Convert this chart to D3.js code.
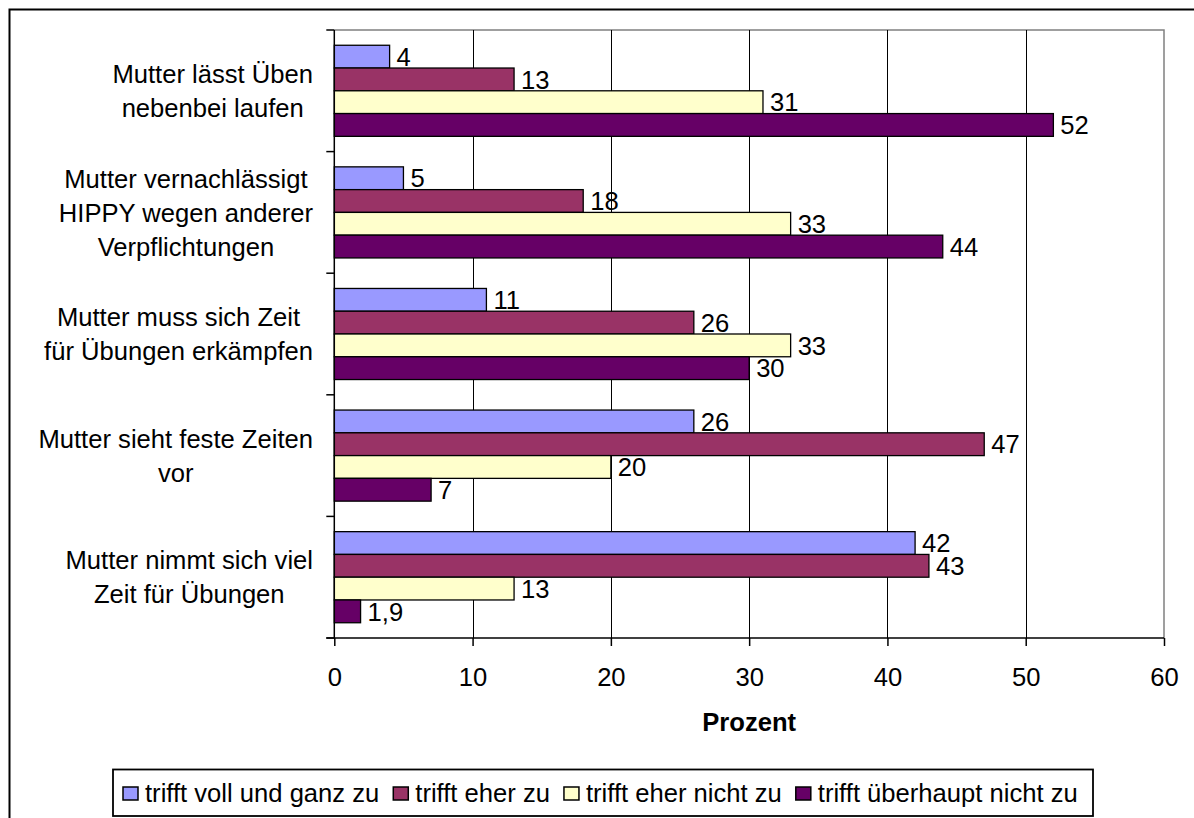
<!DOCTYPE html>
<html>
<head>
<meta charset="utf-8">
<script src="https://cdn.jsdelivr.net/npm/d3@7"></script>
<style>
  html, body { margin: 0; padding: 0; background: #fff; }
  svg { display: block; font-family: "Liberation Sans", Arial, sans-serif; }
</style>
</head>
<body>
<svg id="chart" width="1194" height="818"></svg>
<script>
// ---- data ----
const categories = [
  ["Mutter lässt Üben", "nebenbei laufen"],
  ["Mutter vernachlässigt", "HIPPY wegen anderer", "Verpflichtungen"],
  ["Mutter muss sich Zeit", "für Übungen erkämpfen"],
  ["Mutter sieht feste Zeiten", "vor"],
  ["Mutter nimmt sich viel", "Zeit für Übungen"]
];
const seriesNames = ["trifft voll und ganz zu", "trifft eher zu", "trifft eher nicht zu", "trifft überhaupt nicht zu"];
const vollUndGanz = [4, 5, 11, 26, 42];
const eherZu = [13, 18, 26, 47, 43];
const eherNicht = [31, 33, 33, 20, 13];
const ueberhauptNicht = [52, 44, 30, 7, 1.9];
const xTicks = [0, 10, 20, 30, 40, 50, 60];
const xTitle = "Prozent";
const colors = ["#9999FF", "#993366", "#FFFFCC", "#660066"];

const seriesValues = [vollUndGanz, eherZu, eherNicht, ueberhauptNicht];

// ---- layout ----
const svg = d3.select("#chart");
const plot = { left: 334.3, right: 1164, top: 30, bottom: 638 };
const FONT = 25.6;

const de = d3.formatLocale({ decimal: ",", thousands: ".", grouping: [3], currency: ["", " €"] });
const fmt = de.format("~g");

// outer frame
svg.append("rect").attr("x", 9.5).attr("y", 9.5).attr("width", 1200).attr("height", 820)
  .attr("fill", "none").attr("stroke", "#000").attr("stroke-width", 2);

const x = d3.scaleLinear().domain([0, 60]).range([plot.left, plot.right]);
const catIdx = categories.map((d, i) => i);
const y0 = d3.scaleBand().domain(catIdx).range([plot.top, plot.bottom]).paddingInner(0).paddingOuter(0);
const y1 = d3.scaleBand().domain(seriesNames).range([0, y0.bandwidth()]).paddingInner(0).paddingOuter(0.67);

// plot area border (gray top & right)
svg.append("path")
  .attr("d", `M${plot.left},${plot.top}H${plot.right}V${plot.bottom}`)
  .attr("fill", "none").attr("stroke", "#808080").attr("stroke-width", 1.5);

// vertical gridlines
svg.append("g").selectAll("line").data(xTicks.filter(t => t > 0 && t < 60)).join("line")
  .attr("x1", d => Math.round(x(d)) + 0.5).attr("x2", d => Math.round(x(d)) + 0.5)
  .attr("y1", plot.top).attr("y2", plot.bottom)
  .attr("stroke", "#000").attr("stroke-width", 1);

// bars
const rows = [];
catIdx.forEach(ci => seriesNames.forEach((s, si) => rows.push({ ci, si, s, v: seriesValues[si][ci] })));

svg.append("g").selectAll("rect").data(rows).join("rect")
  .attr("x", x(0))
  .attr("y", d => y0(d.ci) + y1(d.s))
  .attr("width", d => x(d.v) - x(0))
  .attr("height", y1.bandwidth())
  .attr("fill", d => colors[d.si])
  .attr("stroke", "#000").attr("stroke-width", 1.3);

// value labels
svg.append("g").selectAll("text").data(rows).join("text")
  .attr("x", d => x(d.v) + 7)
  .attr("y", d => y0(d.ci) + y1(d.s) + y1.bandwidth() / 2)
  .attr("dy", "0.36em")
  .attr("font-size", FONT)
  .attr("fill", "#000")
  .text(d => fmt(d.v));

// x axis
const xAxis = d3.axisBottom(x).tickValues(xTicks).tickSize(8).tickFormat(d3.format("d"));
const gx = svg.append("g").attr("transform", `translate(0,${plot.bottom})`).call(xAxis);
gx.select(".domain").attr("stroke", "#000").attr("stroke-width", 1.5)
  .attr("d", `M${plot.left - 8},0H${plot.right}`);
gx.selectAll(".tick line").attr("stroke", "#000").attr("stroke-width", 1.5);
gx.selectAll(".tick text").attr("font-size", FONT).attr("font-family", "Liberation Sans, Arial, sans-serif")
  .attr("fill", "#000").attr("y", 0).attr("dy", 0)
  .attr("transform", "translate(0,48)");

// y axis
const yTickPos = catIdx.map(i => y0(i)).concat([plot.bottom]);
const gy = svg.append("g");
gy.append("line").attr("x1", plot.left).attr("x2", plot.left).attr("y1", plot.top).attr("y2", plot.bottom)
  .attr("stroke", "#000").attr("stroke-width", 1.5);
gy.selectAll("line.t").data(yTickPos).join("line").attr("class", "t")
  .attr("x1", plot.left - 8).attr("x2", plot.left)
  .attr("y1", d => d).attr("y2", d => d)
  .attr("stroke", "#000").attr("stroke-width", 1.5);

// category labels (block right-aligned, lines centered within block)
const LINE = 34;
const catG = svg.append("g");
categories.forEach((lines, ci) => {
  const g = catG.append("g");
  const cy = y0(ci) + y0.bandwidth() / 2;
  const texts = g.selectAll("text").data(lines).join("text")
    .attr("font-size", FONT).attr("fill", "#000").attr("text-anchor", "middle")
    .attr("y", (d, i) => cy + (i - (lines.length - 1) / 2) * LINE)
    .attr("dy", "0.36em")
    .text(d => d);
  let maxW = 0;
  texts.each(function () { maxW = Math.max(maxW, this.getComputedTextLength()); });
  texts.attr("x", 313 - maxW / 2);
});

// x title
svg.append("text").attr("x", (plot.left + plot.right) / 2).attr("y", 731)
  .attr("text-anchor", "middle").attr("font-size", FONT).attr("font-weight", "bold")
  .attr("fill", "#000").text(xTitle);

// legend
const leg = svg.append("g");
leg.append("rect").attr("x", 113).attr("y", 769.5).attr("width", 980).attr("height", 46.5)
  .attr("fill", "#fff").attr("stroke", "#000").attr("stroke-width", 1.8);
let lx = 123;
seriesNames.forEach((name, i) => {
  leg.append("rect").attr("x", lx).attr("y", 787).attr("width", 15).attr("height", 13)
    .attr("fill", colors[i]).attr("stroke", "#000").attr("stroke-width", 1.5);
  const t = leg.append("text").attr("x", lx + 22).attr("y", 801.5)
    .attr("font-size", FONT).attr("fill", "#000").text(name);
  lx = lx + 22 + t.node().getComputedTextLength() + 14;
});
</script>
</body>
</html>
